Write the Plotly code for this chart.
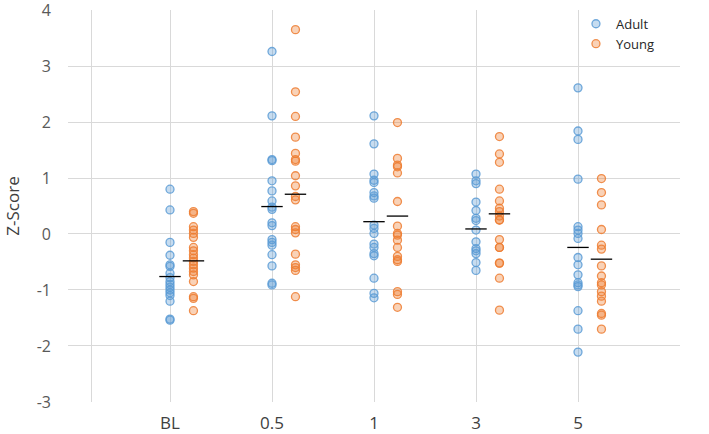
import plotly.graph_objects as go

categories = ["BL", "0.5", "1", "3", "5"]

adult = {
    "BL": [0.80, 0.43, -0.15, -0.38, -0.55, -0.58, -0.70, -0.78, -0.85, -0.90, -0.95,
           -1.00, -1.05, -1.10, -1.20, -1.52, -1.54],
    "0.5": [3.26, 2.11, 1.33, 1.31, 0.95, 0.77, 0.59, 0.48, 0.44, 0.20, 0.15, -0.10,
            -0.15, -0.20, -0.37, -0.57, -0.88, -0.91],
    "1": [2.11, 1.61, 1.07, 0.96, 0.92, 0.74, 0.68, 0.64, 0.16, 0.10, 0.01, -0.18,
          -0.24, -0.35, -0.39, -0.79, -1.06, -1.14],
    "3": [1.07, 0.95, 0.90, 0.57, 0.42, 0.28, 0.24, 0.07, -0.14, -0.26, -0.30, -0.35,
          -0.51, -0.65],
    "5": [2.61, 1.84, 1.69, 0.98, 0.13, 0.07, 0.01, -0.08, -0.42, -0.55, -0.73, -0.87,
          -0.91, -0.94, -1.37, -1.70, -2.11],
}
young = {
    "BL": [0.40, 0.37, 0.13, 0.07, 0.01, -0.06, -0.24, -0.30, -0.37, -0.43, -0.49,
           -0.55, -0.61, -0.67, -0.73, -0.85, -1.12, -1.15, -1.37],
    "0.5": [3.65, 2.54, 2.10, 1.73, 1.44, 1.33, 1.30, 1.04, 0.86, 0.67, 0.61, 0.13,
            0.08, 0.02, -0.36, -0.55, -0.60, -0.65, -1.12],
    "1": [1.99, 1.35, 1.23, 1.20, 1.09, 0.58, 0.14, 0.01, -0.02, -0.11, -0.24, -0.40,
          -0.46, -0.49, -1.03, -1.08, -1.31],
    "3": [1.74, 1.43, 1.28, 0.80, 0.59, 0.46, 0.40, 0.32, 0.25, 0.25, -0.10, -0.24,
          -0.24, -0.52, -0.52, -0.79, -1.36],
    "5": [0.99, 0.74, 0.52, 0.08, -0.20, -0.27, -0.57, -0.75, -0.87, -0.91, -1.03,
          -1.11, -1.20, -1.42, -1.45, -1.70],
}
adult_mean = [-0.76, 0.49, 0.22, 0.09, -0.24]
young_mean = [-0.48, 0.71, 0.32, 0.36, -0.45]
y_ticks = [-3, -2, -1, 0, 1, 2, 3, 4]

YOUNG_OFFSET = 0.23
HALF = 0.105

fig = go.Figure()

ax, ay, yx, yy = [], [], [], []
for i, c in enumerate(categories):
    for v in adult[c]:
        ax.append(i + 1)
        ay.append(v)
    for v in young[c]:
        yx.append(i + 1 + YOUNG_OFFSET)
        yy.append(v)

fig.add_trace(go.Scatter(
    x=ax, y=ay, mode="markers", name="Adult",
    marker=dict(size=8, color="rgba(91,155,213,0.35)",
                line=dict(color="rgba(91,155,213,0.85)", width=1.3)),
))
fig.add_trace(go.Scatter(
    x=yx, y=yy, mode="markers", name="Young",
    marker=dict(size=8, color="rgba(237,125,49,0.35)",
                line=dict(color="rgba(237,125,49,0.85)", width=1.3)),
))

mx, my = [], []
for i, m in enumerate(adult_mean):
    c = i + 1
    mx += [c - HALF, c + HALF, None]
    my += [m, m, None]
for i, m in enumerate(young_mean):
    c = i + 1 + YOUNG_OFFSET
    mx += [c - HALF, c + HALF, None]
    my += [m, m, None]
fig.add_trace(go.Scatter(x=mx, y=my, mode="lines", showlegend=False,
                         line=dict(color="black", width=1.3), hoverinfo="skip"))

fig.update_layout(
    width=709, height=434,
    margin=dict(l=68, r=29, t=10, b=32, autoexpand=False),
    paper_bgcolor="white", plot_bgcolor="white",
    font=dict(family="Open Sans", color="#595959"),
    legend=dict(x=0.83, y=1.003, xanchor="left", yanchor="top",
                bgcolor="rgba(255,255,255,0)", font=dict(size=13, color="#262626"),
                itemwidth=30, tracegroupgap=0),
    showlegend=True,
)
fig.update_xaxes(
    range=[0, 6],
    tickmode="array",
    tickvals=[0, 0.235, 1, 2, 3, 4, 5, 6],
    ticktext=["", "", categories[0], categories[1], categories[2], categories[3], categories[4], ""],
    showgrid=True, gridcolor="#D9D9D9", gridwidth=1,
    zeroline=False, showline=False, ticks="",
    tickfont=dict(size=17, color="#404040"),
    ticklabelstandoff=9, automargin=False, ticklabeloverflow="allow",
)
fig.update_yaxes(
    range=[-3.001, 4.001],
    tickmode="array", tickvals=y_ticks, ticktext=[str(t) for t in y_ticks],
    showgrid=True, gridcolor="#D9D9D9", gridwidth=1,
    zeroline=False, showline=False, ticks="",
    tickfont=dict(size=16, color="#595959"),
    ticklabelstandoff=16, automargin=False, ticklabeloverflow="allow",
    title=dict(text="Z-Score", font=dict(size=17, color="#404040"), standoff=12),
)

fig.write_html("out.html", config={"displayModeBar": False},
               post_script="document.body.style.margin='0';")
